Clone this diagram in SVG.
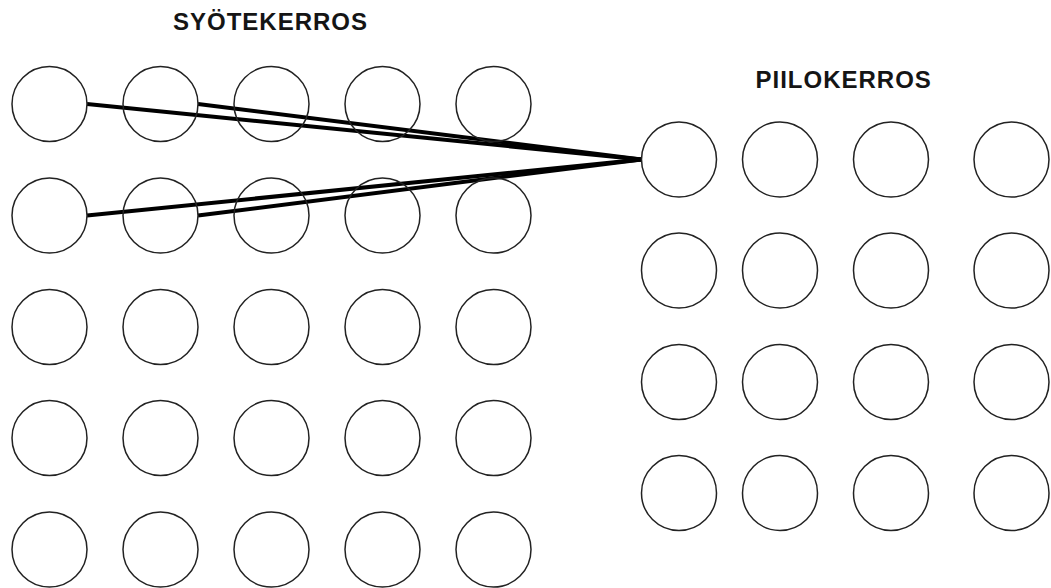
<svg xmlns="http://www.w3.org/2000/svg" width="1051" height="588" viewBox="0 0 1051 588">
<style>
.n{fill:none;stroke:#222;stroke-width:1.5}
.e{stroke:#000;stroke-width:4;stroke-linecap:butt;fill:none}
.t{font-family:"Liberation Sans",Arial,sans-serif;font-weight:bold;font-size:24px;letter-spacing:1px;fill:#151515}
</style>
<rect width="1051" height="588" fill="#fff"/>
<g id="labels">
<text class="t" x="173" y="30">SYÖTEKERROS</text>
<text class="t" x="755.5" y="88">PIILOKERROS</text>
</g>
<g id="connectors">
<line class="e" x1="87" y1="104" x2="641.5" y2="159.5"/>
<line class="e" x1="198" y1="104" x2="641.5" y2="159.5"/>
<line class="e" x1="87" y1="215.5" x2="641.5" y2="159.5"/>
<line class="e" x1="198" y1="215.5" x2="641.5" y2="159.5"/>
</g>
<g id="input-layer">
<g id="in-1-1"><circle class="n" cx="49.5" cy="104" r="37.5"/></g>
<g id="in-1-2"><circle class="n" cx="160.5" cy="104" r="37.5"/></g>
<g id="in-1-3"><circle class="n" cx="271.5" cy="104" r="37.5"/></g>
<g id="in-1-4"><circle class="n" cx="382.5" cy="104" r="37.5"/></g>
<g id="in-1-5"><circle class="n" cx="493.5" cy="104" r="37.5"/></g>
<g id="in-2-1"><circle class="n" cx="49.5" cy="215.5" r="37.5"/></g>
<g id="in-2-2"><circle class="n" cx="160.5" cy="215.5" r="37.5"/></g>
<g id="in-2-3"><circle class="n" cx="271.5" cy="215.5" r="37.5"/></g>
<g id="in-2-4"><circle class="n" cx="382.5" cy="215.5" r="37.5"/></g>
<g id="in-2-5"><circle class="n" cx="493.5" cy="215.5" r="37.5"/></g>
<g id="in-3-1"><circle class="n" cx="49.5" cy="327" r="37.5"/></g>
<g id="in-3-2"><circle class="n" cx="160.5" cy="327" r="37.5"/></g>
<g id="in-3-3"><circle class="n" cx="271.5" cy="327" r="37.5"/></g>
<g id="in-3-4"><circle class="n" cx="382.5" cy="327" r="37.5"/></g>
<g id="in-3-5"><circle class="n" cx="493.5" cy="327" r="37.5"/></g>
<g id="in-4-1"><circle class="n" cx="49.5" cy="438" r="37.5"/></g>
<g id="in-4-2"><circle class="n" cx="160.5" cy="438" r="37.5"/></g>
<g id="in-4-3"><circle class="n" cx="271.5" cy="438" r="37.5"/></g>
<g id="in-4-4"><circle class="n" cx="382.5" cy="438" r="37.5"/></g>
<g id="in-4-5"><circle class="n" cx="493.5" cy="438" r="37.5"/></g>
<g id="in-5-1"><circle class="n" cx="49.5" cy="549.5" r="37.5"/></g>
<g id="in-5-2"><circle class="n" cx="160.5" cy="549.5" r="37.5"/></g>
<g id="in-5-3"><circle class="n" cx="271.5" cy="549.5" r="37.5"/></g>
<g id="in-5-4"><circle class="n" cx="382.5" cy="549.5" r="37.5"/></g>
<g id="in-5-5"><circle class="n" cx="493.5" cy="549.5" r="37.5"/></g>
</g>
<g id="hidden-layer">
<g id="h-1-1"><circle class="n" cx="679" cy="159.5" r="37.5"/></g>
<g id="h-1-2"><circle class="n" cx="780" cy="159.5" r="37.5"/></g>
<g id="h-1-3"><circle class="n" cx="891" cy="159.5" r="37.5"/></g>
<g id="h-1-4"><circle class="n" cx="1011.5" cy="159.5" r="37.5"/></g>
<g id="h-2-1"><circle class="n" cx="679" cy="270.5" r="37.5"/></g>
<g id="h-2-2"><circle class="n" cx="780" cy="270.5" r="37.5"/></g>
<g id="h-2-3"><circle class="n" cx="891" cy="270.5" r="37.5"/></g>
<g id="h-2-4"><circle class="n" cx="1011.5" cy="270.5" r="37.5"/></g>
<g id="h-3-1"><circle class="n" cx="679" cy="382" r="37.5"/></g>
<g id="h-3-2"><circle class="n" cx="780" cy="382" r="37.5"/></g>
<g id="h-3-3"><circle class="n" cx="891" cy="382" r="37.5"/></g>
<g id="h-3-4"><circle class="n" cx="1011.5" cy="382" r="37.5"/></g>
<g id="h-4-1"><circle class="n" cx="679" cy="493" r="37.5"/></g>
<g id="h-4-2"><circle class="n" cx="780" cy="493" r="37.5"/></g>
<g id="h-4-3"><circle class="n" cx="891" cy="493" r="37.5"/></g>
<g id="h-4-4"><circle class="n" cx="1011.5" cy="493" r="37.5"/></g>
</g>
</svg>
